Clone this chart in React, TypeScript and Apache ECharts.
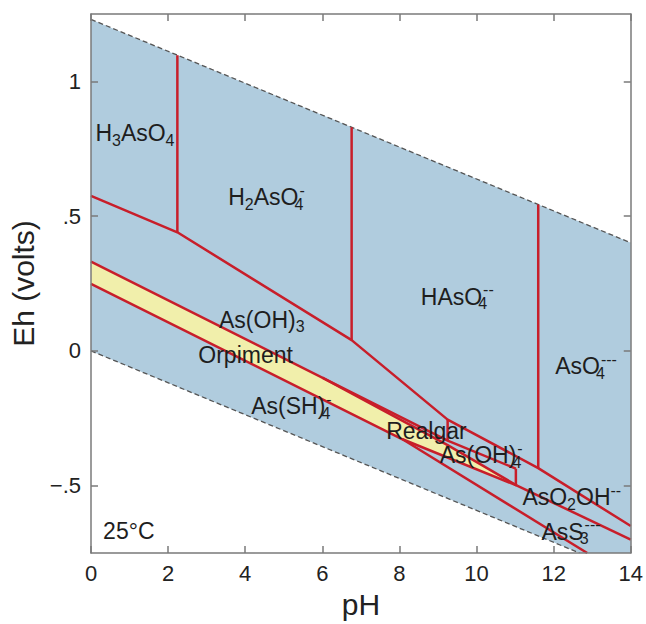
import React, { useEffect, useRef } from 'react';
import * as echarts from 'echarts';

const FONT = 'Liberation Sans, Arial, Helvetica, sans-serif';
const BLUE = '#b0ccde';
const YELLOW = '#f1efab';
const RED = '#c81e2a';
const FRAME = '#7a7a7a';

// axes
const xTickValues = [0, 2, 4, 6, 8, 10, 12, 14];
const yTickValues = [-0.5, 0, 0.5, 1];
const yTickLabels = ['\u2212.5', '0', '.5', '1'];

// water stability limits (pH, Eh)
const upperWater = [[0, 1.23], [14, 0.401]];
const lowerWater = [[0, 0], [12.67, -0.75]];
const stabilityField = [[0, 1.23], [14, 0.401], [14, -0.75], [12.67, -0.75], [0, 0]];

// orpiment (+ realgar) solid field
const orpimentField = [[0, 0.331], [6.0, -0.099], [9.25, -0.35], [11.05, -0.5], [8.08, -0.328], [0, 0.249]];

// boundaries
const pk1Line = [[2.24, 1.097], [2.24, 0.44]];
const pk2Line = [[6.76, 0.83], [6.76, 0.04]];
const pk3Line = [[11.6, 0.543], [11.6, -0.435]];
const redoxLine = [[0, 0.575], [2.24, 0.44], [6.76, 0.04], [9.25, -0.255], [11.6, -0.435], [14, -0.65]];
const asoh3Line = [[9.25, -0.255], [9.25, -0.333]];
const orpTopLine = [[0, 0.331], [9.25, -0.333], [11.02, -0.437]];
const realgarLine = [[6.0, -0.099], [9.25, -0.35], [11.05, -0.5]];
const asoh4Line = [[11.02, -0.437], [11.02, -0.5]];
const orpBottomLine = [[0, 0.249], [8.08, -0.328], [11.05, -0.5]];
const aso2ohLine = [[11.05, -0.5], [14, -0.7]];
const ass3Line = [[8.08, -0.328], [12.87, -0.75]];

// field labels
const labelTexts = [
  'H{s|3}AsO{s|4}',
  'H{s|2}AsO{z|4}{c|-}',
  'HAsO{z|4}{c|--}',
  'AsO{z|4}{c|---}',
  'As(OH){s|3}',
  'Orpiment',
  'As(SH){z|4}{c|-}',
  'Realgar',
  'As(OH){z|4}{c|-}',
  'AsO{s|2}OH{c|--}',
  'AsS{z|3}{c|---}',
  '25\u00B0C',
];
const labelPH = [1.14, 4.55, 9.5, 12.84, 4.43, 4.01, 5.2, 8.7, 10.12, 12.47, 12.45, 0.98];
const labelEh = [0.807, 0.57, 0.2, -0.057, 0.115, -0.014, -0.205, -0.297, -0.388, -0.543, -0.672, -0.668];

const boundaryLines = [
  pk1Line, pk2Line, pk3Line, redoxLine, asoh3Line, orpTopLine,
  realgarLine, asoh4Line, orpBottomLine, aso2ohLine, ass3Line,
];

function polygonSeries(points: number[][], fill: string, z: number) {
  return {
    type: 'custom',
    coordinateSystem: 'cartesian2d',
    silent: true,
    z,
    data: points,
    renderItem: (params: any, api: any) => {
      if (params.dataIndex !== 0) return null;
      const pts = points.map((p) => api.coord(p));
      return { type: 'polygon', shape: { points: pts }, style: { fill } };
    },
  };
}

export default function App() {
  const ref = useRef<HTMLDivElement>(null);
  useEffect(() => {
    document.body.style.margin = '0';
    const chart = echarts.init(ref.current as HTMLDivElement, null, { renderer: 'svg' });
    const axisCommon = {
      z: 10,
      axisLine: { show: true, onZero: false, lineStyle: { color: FRAME, width: 1.5 } },
      splitLine: { show: false },
    };
    const txt = { color: '#1e1e1e', fontFamily: FONT };
    const option: any = {
      animation: false,
      backgroundColor: '#ffffff',
      grid: { left: 91, right: 14, top: 14, bottom: 66, containLabel: false },
      xAxis: [
        {
          ...axisCommon,
          type: 'value', min: 0, max: 14, interval: 2, position: 'bottom',
          axisTick: { show: true, inside: true, length: 7, lineStyle: { color: FRAME, width: 1.5 } },
          axisLabel: {
            show: true, fontSize: 22, color: '#222', fontFamily: FONT, margin: 9,
            customValues: xTickValues,
            formatter: (v: number) => String(v),
          },
          name: 'pH', nameLocation: 'middle', nameGap: 36,
          nameTextStyle: { fontSize: 30, color: '#222', fontFamily: FONT },
        },
        {
          ...axisCommon,
          type: 'value', min: 0, max: 14, interval: 2, position: 'top',
          axisTick: { show: true, inside: true, length: 7, lineStyle: { color: FRAME, width: 1.5 } },
          axisLabel: { show: false },
        },
      ],
      yAxis: [
        {
          ...axisCommon,
          type: 'value', min: -0.75, max: 1.25, position: 'left',
          axisTick: { show: true, inside: true, length: 7, customValues: yTickValues, lineStyle: { color: FRAME, width: 1.5 } },
          axisLabel: {
            show: true, fontSize: 22, color: '#222', fontFamily: FONT, margin: 10,
            customValues: yTickValues,
            formatter: (v: number) => {
              const i = yTickValues.findIndex((t) => Math.abs(t - v) < 1e-6);
              return i >= 0 ? yTickLabels[i] : '';
            },
          },
          name: 'Eh (volts)', nameLocation: 'middle', nameGap: 46, nameRotate: 90,
          nameTextStyle: { fontSize: 30, color: '#222', fontFamily: FONT },
        },
        {
          ...axisCommon,
          type: 'value', min: -0.75, max: 1.25, position: 'right',
          axisTick: { show: true, inside: true, length: 7, customValues: yTickValues, lineStyle: { color: FRAME, width: 1.5 } },
          axisLabel: { show: false },
        },
      ],
      series: [
        polygonSeries(stabilityField, BLUE, 1),
        polygonSeries(orpimentField, YELLOW, 2),
        ...[upperWater, lowerWater].map((d) => ({
          type: 'line', data: d, showSymbol: false, silent: true, z: 3,
          lineStyle: { color: '#555', width: 1.3, type: [5, 3] },
        })),
        ...boundaryLines.map((d) => ({
          type: 'line', data: d, showSymbol: false, silent: true, z: 4,
          lineStyle: { color: RED, width: 2.5 },
        })),
        {
          type: 'scatter', silent: true, z: 6, symbolSize: 1,
          itemStyle: { color: 'rgba(0,0,0,0)' },
          data: labelTexts.map((t, i) => ({ value: [labelPH[i], labelEh[i]], name: t })),
          label: {
            show: true, position: 'inside', formatter: (p: any) => p.name,
            fontSize: 23, lineHeight: 30, ...txt, opacity: 1,
            align: 'center', verticalAlign: 'middle',
            rich: {
              s: { fontSize: 16, lineHeight: 16, verticalAlign: 'bottom', ...txt },
              z: { fontSize: 16, lineHeight: 16, verticalAlign: 'bottom', width: 1, ...txt },
              c: { fontSize: 16, lineHeight: 16, verticalAlign: 'top', ...txt },
            },
          },
        },
      ],
    };
    chart.setOption(option);
    return () => chart.dispose();
  }, []);
  return <div ref={ref} style={{ width: 646, height: 624 }} />;
}
